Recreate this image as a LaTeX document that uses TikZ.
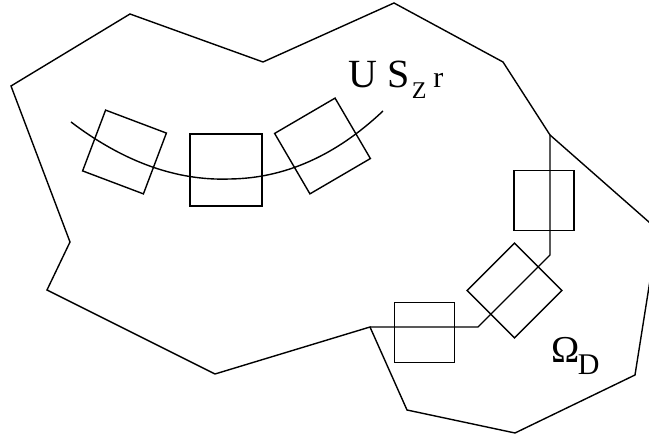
\documentclass[tikz,border=0pt]{standalone}
\usepackage{fontspec}
\setmainfont{Liberation Serif}
\usepackage{tikz}
\usetikzlibrary{positioning}

\begin{document}
\begin{tikzpicture}[
    x=0.5pt, y=-0.5pt,
    line width=0.7pt,
    boxnode/.style={rectangle, draw=black, inner sep=0pt, line width=0.7pt},
    textnode/.style={inner sep=0pt, anchor=base west}
    ]
        \clip (0,0) rectangle (649,437);

        %Corners shared by the boundary and the interface
        \coordinate (jTop) at (550,135);
        \coordinate (jLow) at (370,327);

        %Boundary
        \draw (11,86) -- (130,14) -- (263,62) -- (394,3) -- (503,62) -- (jTop)
            -- (658,230) -- (635,375) -- (515,433) -- (407,410) -- (jLow)
            -- (215,374) -- (47,290) -- (70,242) -- cycle;

        %Interface
        \draw (jTop) -- (550,255) -- (478,327) -- (jLow);

        %Curve
        \draw (71,122) .. controls (123.7,162) and (176.7,181) .. (230,179)
            .. controls (284.7,178.3) and (335.7,155.7) .. (383,111);

        %Nodes
        \node[boxnode, minimum size=32.5pt, rotate=-20.7]
            (arcLeft)  at (124.5,152) {};
        \node[boxnode, minimum size=36pt]
            (arcMid)   at (226,170)   {};
        \node[boxnode, minimum size=35pt, rotate=30.3]
            (arcRight) at (322.5,146) {};
        \node[boxnode, minimum size=30pt]
            (ifTop)    at (544,200.5) {};
        \node[boxnode, minimum size=33.5pt, rotate=45]
            (ifMid)    at (514.5,290.5) {};
        \node[boxnode, minimum size=30pt]
            (ifLow)    at (424.5,332.5) {};

        %Labels
        \node[textnode] (lblS) at (348,88)
            {\fontsize{20}{24}\selectfont U S\hspace{1pt}\raisebox{-5.5pt}{\fontsize{12}{14}\selectfont Z}\hspace{3.5pt}{\fontsize{15}{18}\selectfont r}};
        \node[textnode] (lblOmega) at (551,363)
            {\fontsize{19}{22}\selectfont Ω\hspace{-1pt}\raisebox{-6pt}{\fontsize{15}{18}\selectfont D}};
    \end{tikzpicture}
\end{document}
